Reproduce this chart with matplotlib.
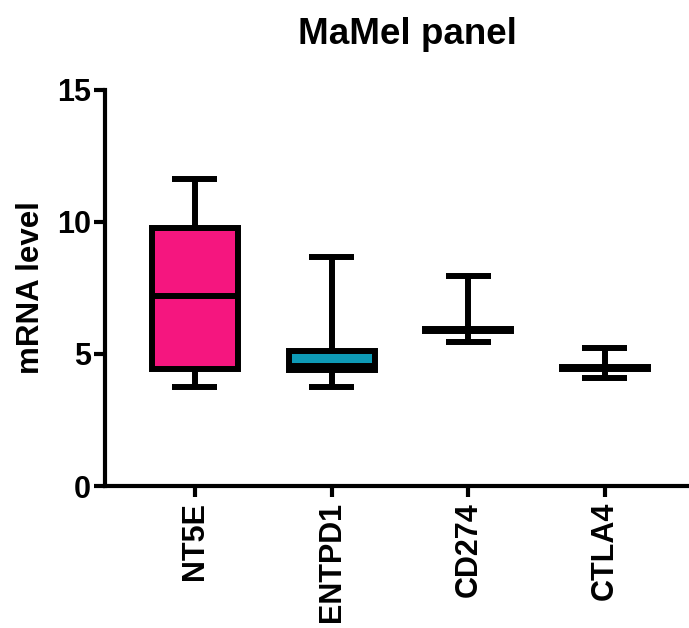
import matplotlib
matplotlib.use("Agg")
import matplotlib.pyplot as plt

plt.rcParams['font.family'] = ['Liberation Sans', 'DejaVu Sans']
plt.rcParams['font.weight'] = 'bold'

# Box statistics
genes = ["NT5E", "ENTPD1", "CD274", "CTLA4"]
whisker_low = [3.75, 3.75, 5.45, 4.1]
q1 = [4.42, 4.38, 5.88, 4.45]
median = [7.2, 4.55, 5.92, 4.48]
q3 = [9.78, 5.13, 5.95, 4.52]
whisker_high = [11.63, 8.67, 7.95, 5.23]
box_colors = ["#F5167F", "#0E9AB6", "#000000", "#000000"]

stats = []
for i, g in enumerate(genes):
    stats.append({"label": g, "whislo": whisker_low[i], "q1": q1[i], "med": median[i],
                  "q3": q3[i], "whishi": whisker_high[i], "fliers": []})

fig = plt.figure(figsize=(6.89, 6.28), dpi=100)
ax = fig.add_axes([0.152, 0.226, 0.845, 0.631])

lw = 4.3
bp = ax.bxp(stats, positions=range(len(genes)), widths=0.63, capwidths=0.33,
            patch_artist=True, showfliers=False,
            boxprops=dict(linewidth=lw, edgecolor="black"),
            medianprops=dict(color="black", linewidth=lw, solid_capstyle="butt"),
            whiskerprops=dict(color="black", linewidth=lw, solid_capstyle="butt"),
            capprops=dict(color="black", linewidth=lw, solid_capstyle="butt"))
for patch, c in zip(bp["boxes"], box_colors):
    patch.set_facecolor(c)

ax.set_xlim(-0.66, 3.6)
ax.set_ylim(0, 15)
ax.set_yticks([0, 5, 10, 15])
ax.set_xticks(range(len(genes)))
ax.set_xticklabels(genes, rotation=90, fontsize=22, fontweight="bold")
ax.tick_params(axis="y", labelsize=22, width=3, length=8, pad=2)
ax.tick_params(axis="x", width=3, length=8)
for lab in ax.get_yticklabels():
    lab.set_fontweight("bold")

for s in ["top", "right"]:
    ax.spines[s].set_visible(False)
for s in ["left", "bottom"]:
    ax.spines[s].set_linewidth(3)

ax.set_ylabel("mRNA level", fontsize=22.5, fontweight="bold", labelpad=8)
ax.set_title("MaMel panel", fontsize=26.5, fontweight="bold", pad=33, x=0.52)

fig.savefig("out.png", dpi=100)
